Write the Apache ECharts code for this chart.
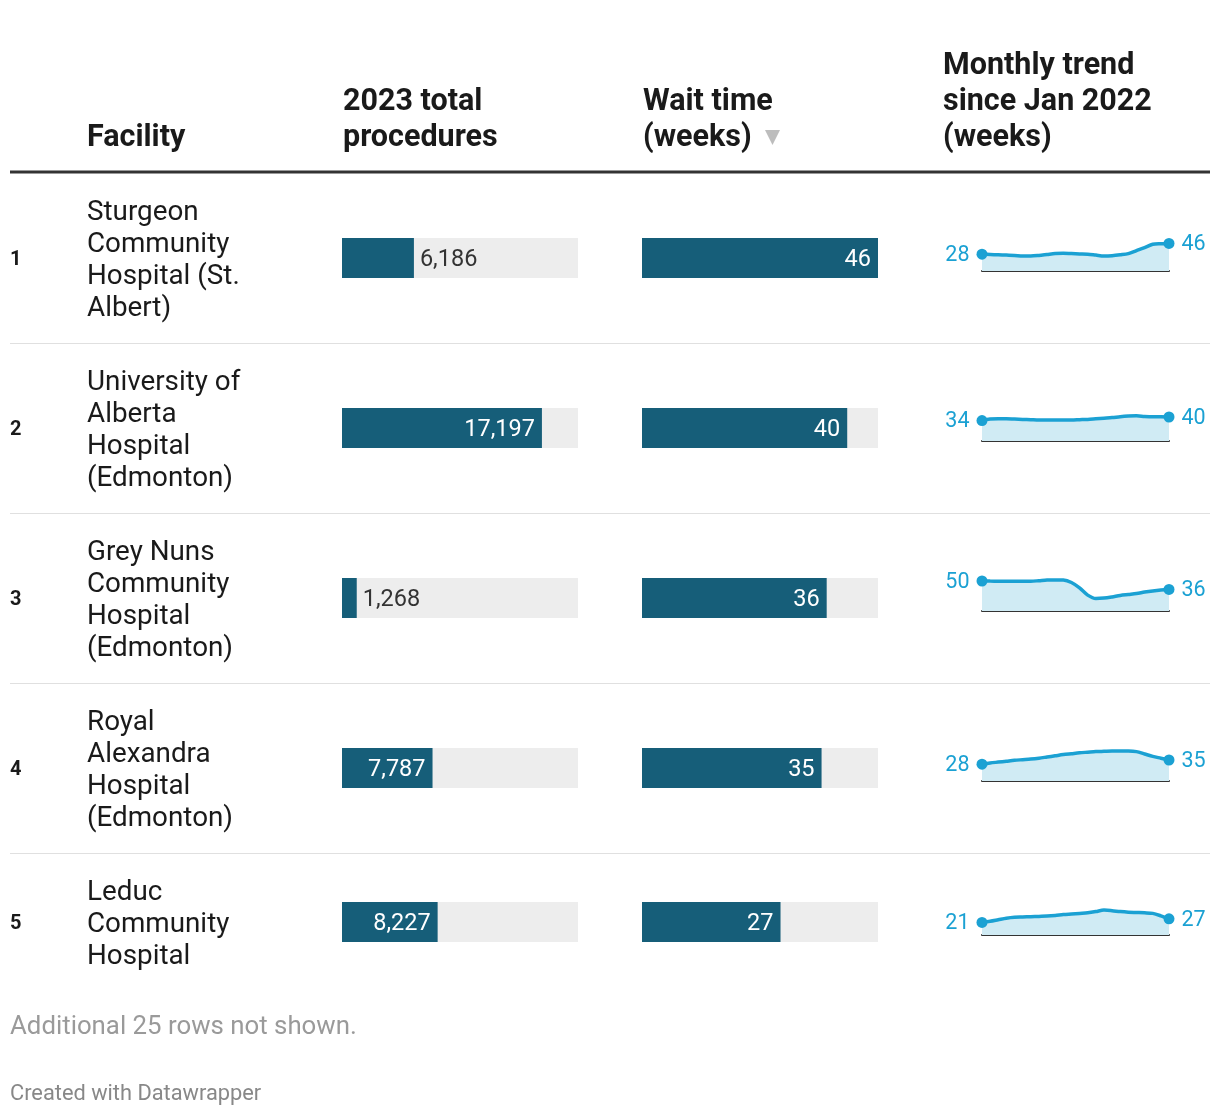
<!DOCTYPE html>
<html>
<head>
<meta charset="utf-8">
<script src="https://cdn.jsdelivr.net/npm/echarts@6/dist/echarts.min.js"></script>
<style>
html,body{margin:0;padding:0;background:#fff;}
#chart{width:1220px;height:1116px;}
</style>
</head>
<body>
<div id="chart"></div>
<script>
// ---- Data ----
const ranks = [1, 2, 3, 4, 5];
const facilities = [
  "Sturgeon Community Hospital (St. Albert)",
  "University of Alberta Hospital (Edmonton)",
  "Grey Nuns Community Hospital (Edmonton)",
  "Royal Alexandra Hospital (Edmonton)",
  "Leduc Community Hospital"
];
const procedures = [6186, 17197, 1268, 7787, 8227];
const waitWeeks = [46, 40, 36, 35, 27];
// Monthly wait time (weeks) since Jan 2022, estimated from sparklines
const trendSturgeon = [28, 27.5, 27, 26.5, 26, 25, 25, 26, 27.5, 29, 29.5, 29, 28.5, 28, 26.5, 25, 25.5, 27, 29, 34, 39, 44.5, 45.5, 46];
const trendUofA     = [34, 36.5, 37, 37, 36.5, 36, 35.5, 35, 35, 35, 35, 35, 35.5, 36, 37, 38, 39, 40.5, 41.5, 42, 41, 40.5, 40.5, 40];
const trendGreyNuns = [50, 49.8, 49.7, 49.6, 49.5, 49.5, 49.6, 50.5, 51.5, 51.7, 51.5, 47.5, 38.5, 26.5, 20.8, 21.5, 23.5, 26, 27.5, 29, 31.5, 33.5, 35, 36];
const trendRoyalAlex= [28, 30, 31.5, 33, 34.5, 35.5, 36.5, 38, 40, 42, 44, 45.5, 47, 48, 49, 49.5, 50, 50, 50, 49, 45, 41, 38, 35];
const trendLeduc    = [21, 23, 25.5, 28, 29.5, 30, 30.5, 31, 31.5, 32.5, 34, 35, 36, 37, 39, 41.5, 40.5, 39, 38, 37.5, 37, 36, 32, 27];
const trends = [trendSturgeon, trendUofA, trendGreyNuns, trendRoyalAlex, trendLeduc];
const headers = ["Facility", "2023 total\nprocedures", "Wait time\n(weeks)", "Monthly trend\nsince Jan 2022\n(weeks)"];
const notes = ["Additional 25 rows not shown.", "Created with Datawrapper"];

// ---- Layout / style ----
const FONT = "Roboto, 'Noto Sans', sans-serif";
const BAR_COLOR = "#165e79";
const BG_COLOR = "#ededed";
const SPARK_COLOR = "#1ba1d3";
const SPARK_FILL = "#d0ebf4";
const PROC_MAX = 20300;
const WAIT_MAX = 46;
const rowCenters = [258, 428, 598, 768, 922];
const separators = [343, 513, 683, 853];
const BAR_W = 236;

const chart = echarts.init(document.getElementById('chart'), null, {renderer: 'canvas'});

const grids = [], xAxes = [], yAxes = [], series = [];

function barLabel(px, text) {
  const inside = px > 80;
  return {
    show: true,
    position: inside ? 'insideRight' : 'right',
    distance: inside ? 7 : 6,
    color: inside ? '#ffffff' : '#333333',
    fontSize: 23.5,
    fontFamily: FONT,
    offset: [0, 2],
    formatter: () => text
  };
}

rowCenters.forEach((c, r) => {
  // procedures bar
  const gP = grids.length;
  grids.push({left: 342, top: c - 20, width: BAR_W, height: 40});
  xAxes.push({gridIndex: gP, type: 'value', min: 0, max: PROC_MAX, show: false});
  yAxes.push({gridIndex: gP, type: 'category', data: [facilities[r]], show: false});
  series.push({
    type: 'bar', xAxisIndex: gP, yAxisIndex: gP, barWidth: 40,
    showBackground: true, backgroundStyle: {color: BG_COLOR},
    itemStyle: {color: BAR_COLOR},
    label: barLabel(procedures[r] / PROC_MAX * BAR_W, procedures[r].toLocaleString('en-US')),
    data: [procedures[r]], silent: true, animation: false
  });
  // wait bar
  const gW = grids.length;
  grids.push({left: 642, top: c - 20, width: BAR_W, height: 40});
  xAxes.push({gridIndex: gW, type: 'value', min: 0, max: WAIT_MAX, show: false});
  yAxes.push({gridIndex: gW, type: 'category', data: [facilities[r]], show: false});
  series.push({
    type: 'bar', xAxisIndex: gW, yAxisIndex: gW, barWidth: 40,
    showBackground: true, backgroundStyle: {color: BG_COLOR},
    itemStyle: {color: BAR_COLOR},
    label: barLabel(waitWeeks[r] / WAIT_MAX * BAR_W, String(waitWeeks[r])),
    data: [waitWeeks[r]], silent: true, animation: false
  });
  // sparkline
  const gS = grids.length;
  const t = trends[r];
  grids.push({left: 982, top: c + 13 - 36, width: 187, height: 36});
  xAxes.push({gridIndex: gS, type: 'category', boundaryGap: false,
    data: t.map((_, i) => i),
    axisLine: {show: true, lineStyle: {color: '#333', width: 2}},
    axisTick: {show: false}, axisLabel: {show: false}, splitLine: {show: false}});
  yAxes.push({gridIndex: gS, type: 'value', min: 0, max: 60, show: false});
  series.push({
    type: 'line', xAxisIndex: gS, yAxisIndex: gS,
    smooth: 0.3, symbol: 'none', showSymbol: true, showAllSymbol: true,
    lineStyle: {color: SPARK_COLOR, width: 3.5},
    itemStyle: {color: SPARK_COLOR},
    areaStyle: {color: SPARK_FILL, opacity: 1, origin: 'start'},
    data: t.map((v, i) => {
      if (i === 0 || i === t.length - 1) {
        return {
          value: v, symbol: 'circle', symbolSize: 11,
          label: {show: true, position: i === 0 ? 'left' : 'right', distance: 7,
                  color: SPARK_COLOR, fontSize: 21.5, fontFamily: FONT,
                  offset: [0, 1.5],
                  formatter: () => String(v)}
        };
      }
      return v;
    }),
    silent: true, animation: false
  });
});

// ---- Text & rules ----
const graphic = [];
const headerX = [87, 343, 643, 943];
headers.forEach((h, i) => {
  graphic.push({type: 'text', x: headerX[i], y: 156,
    style: {text: h, font: 'bold 30.5px ' + FONT, fill: '#1a1a1a',
            lineHeight: 36, verticalAlign: 'bottom', align: 'left'}});
});
graphic.push({type: 'polygon', shape: {points: [[765, 130], [780, 130], [772.5, 145]]},
  style: {fill: '#bdbdbd'}});
graphic.push({type: 'line', shape: {x1: 10, y1: 172, x2: 1210, y2: 172},
  style: {stroke: '#333', lineWidth: 3}});
separators.forEach(y => graphic.push({type: 'line',
  shape: {x1: 10, y1: y + 0.5, x2: 1210, y2: y + 0.5}, style: {stroke: '#e0e0e0', lineWidth: 1}}));
rowCenters.forEach((c, r) => {
  graphic.push({type: 'text', x: 10, y: c + 2,
    style: {text: String(ranks[r]), font: 'bold 20px ' + FONT, fill: '#1a1a1a', verticalAlign: 'middle'}});
  graphic.push({type: 'text', x: 87, y: c + 3,
    style: {text: facilities[r], font: '27.8px ' + FONT, fill: '#1a1a1a',
            width: 178, overflow: 'break', lineHeight: 32, verticalAlign: 'middle', align: 'left'}});
});
graphic.push({type: 'text', x: 10, y: 1028,
  style: {text: notes[0], font: '25.8px ' + FONT, fill: '#9a9a9a', verticalAlign: 'middle'}});
graphic.push({type: 'text', x: 10, y: 1095,
  style: {text: notes[1], font: '21.8px ' + FONT, fill: '#888888', verticalAlign: 'middle'}});

chart.setOption({
  animation: false,
  grid: grids, xAxis: xAxes, yAxis: yAxes, series: series, graphic: graphic
});
</script>
</body>
</html>
